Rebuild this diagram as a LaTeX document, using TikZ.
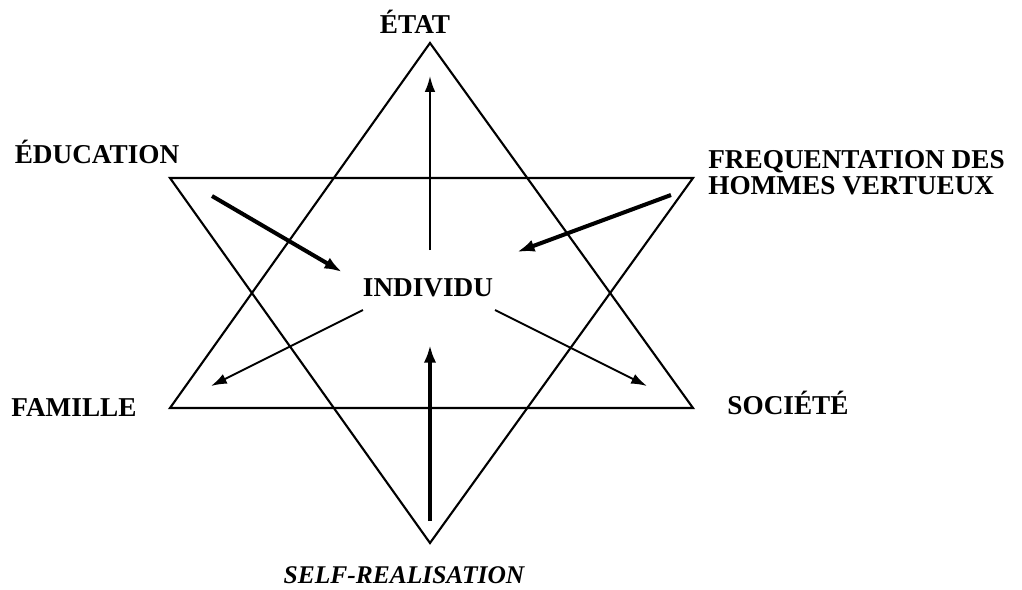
\documentclass[tikz,border=0pt]{standalone}
\usepackage{fontspec}
\setmainfont{Liberation Serif}
\usepackage{tikz}
\usetikzlibrary{arrows.meta, positioning}

\begin{document}
\begin{tikzpicture}[x=0.02cm, y=-0.02cm,
    font=\fontsize{15.5}{14.8}\selectfont\bfseries,
    every node/.style={inner sep=0pt},
    side/.style={line width=1.2pt, line join=miter},
    thinarrow/.style={line width=1.1pt, -{Latex[length=9pt, width=6pt]}},
    thickarrow/.style={line width=2.3pt, -{Latex[length=10pt, width=7pt]}}]
  \useasboundingbox (0,0) rectangle (1022,589);
  % Star: two triangles
  \draw[side] (430,43) -- (170,408) -- (693,408) -- cycle;
  \draw[side] (170,178) -- (693,178) -- (430,543) -- cycle;
  % Labels
  \node[anchor=base] (etat) at (415,33) {ÉTAT};
  \node[anchor=base] (education) at (97,163) {ÉDUCATION};
  \node[anchor=north west, align=left] (frequentation) at (708,150)
    {FREQUENTATION DES\\HOMMES VERTUEUX};
  \node[anchor=base] (individu) at (428,296) {INDIVIDU};
  \node[anchor=base] (famille) at (74,416) {FAMILLE};
  \node[anchor=base] (societe) at (788,414) {SOCIÉTÉ};
  \node[anchor=base, font=\fontsize{14.5}{14.8}\selectfont\bfseries\itshape]
    (self) at (404,583) {SELF-REALISATION};
  % Arrow ends
  \coordinate (e1) at (212,196);
  \coordinate (e2) at (342,272);
  \coordinate (f1) at (671,195);
  \coordinate (f2) at (517,252);
  \coordinate (t1) at (430,250);
  \coordinate (t2) at (430,76);
  \coordinate (s1) at (430,521);
  \coordinate (s2) at (430,345);
  \coordinate (a1) at (363,310);
  \coordinate (a2) at (211,386);
  \coordinate (o1) at (495,310);
  \coordinate (o2) at (647,386);
  % Arrows
  \draw[thickarrow] (e1) -- (e2);
  \draw[thickarrow] (f1) -- (f2);
  \draw[thickarrow] (s1) -- (s2);
  \draw[thinarrow] (t1) -- (t2);
  \draw[thinarrow] (a1) -- (a2);
  \draw[thinarrow] (o1) -- (o2);
\end{tikzpicture}
\end{document}
